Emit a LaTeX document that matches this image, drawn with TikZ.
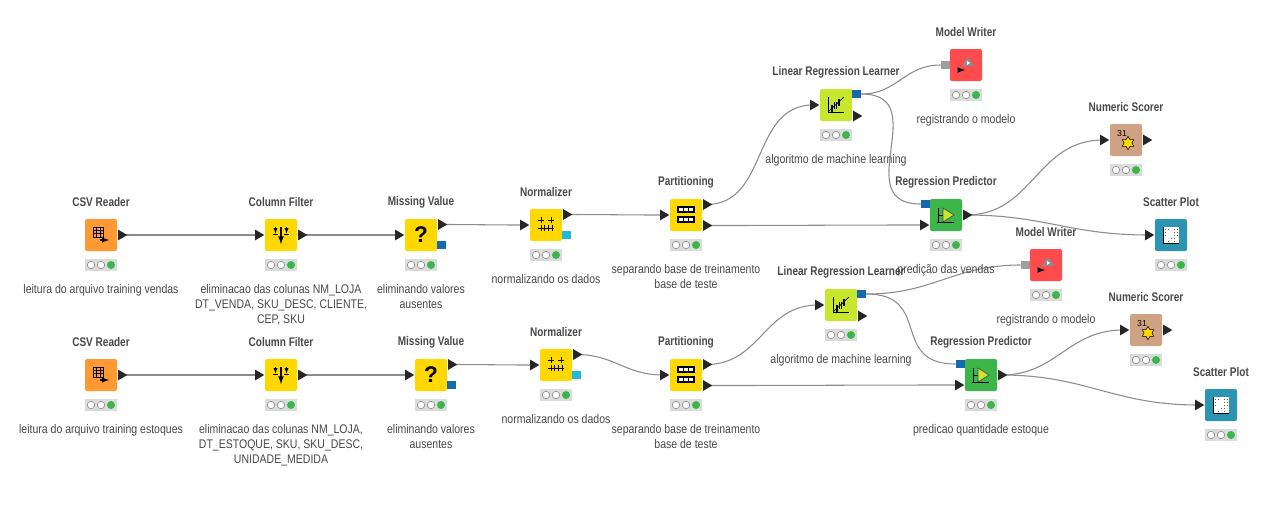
\documentclass[tikz,border=0pt]{standalone}
\usepackage{fontspec}
\setmainfont[FakeStretch=0.84,BoldFeatures={FakeStretch=0.8}]{Liberation Sans}
\newfontfamily\kicon{Liberation Sans}
\usetikzlibrary{calc,shapes.geometric,backgrounds}

\definecolor{kOrange}{HTML}{FF9933}
\definecolor{kYellow}{HTML}{FFD800}
\definecolor{kLime}{HTML}{C8E62E}
\definecolor{kRed}{HTML}{FF4B4B}
\definecolor{kGreen}{HTML}{3CB54A}
\definecolor{kTan}{HTML}{D0A284}
\definecolor{kTeal}{HTML}{2A94B2}
\definecolor{kBlue}{HTML}{1469AF}
\definecolor{kCyan}{HTML}{1EB9DC}
\definecolor{kText}{HTML}{484848}

\tikzset{
	knode/.style={minimum size=24pt,inner sep=0pt,rounded corners=1.5pt},
	ktitle/.style={font=\fontsize{9.4}{11}\selectfont\bfseries,text=kText,inner sep=0pt},
	klabel/.style={font=\fontsize{9.4}{11.25}\selectfont,text=kText,align=center,inner sep=0pt,anchor=north},
	klight/.style={fill=black!14,minimum width=24pt,minimum height=9pt,inner sep=0pt},
	kout/.style={isosceles triangle,isosceles triangle stretches,fill=black!85,inner sep=0pt,minimum height=6.8pt,minimum width=8pt},
	ksquare/.style={minimum size=6.6pt,inner sep=0pt},
	kwire/.style={draw=black!45,line width=0.8pt},
	kcurve/.style={kwire,out=0,in=180,looseness=1.1}
}

% node with title, traffic light and comment
\newcommand{\knode}[6]{
	\node[knode,fill=#4] (#1) at (#2,#3) {};
	\node[ktitle] (#1title) at ($(#1.center)+(0,-33)$) {#5};
	\node[klight] (#1light) at ($(#1.center)+(0,30)$) {};
	\foreach \dx/\col in {-10/white,0/white}
		\fill[draw=black!50,line width=0.4pt,fill=\col] ($(#1light.center)+(\dx,0)$) circle (2.8pt);
	\fill[kGreen] ($(#1light.center)+(10,0)$) circle (3pt);
	\node[klabel] (#1label) at ($(#1.center)+(0,49)$) {#6};
}
% triangle ports: name, node, dy
\newcommand{\kin}[3]{\node[kout] (#1) at ($(#2.west)+(-6.5,#3)$) {};}
\newcommand{\kou}[3]{\node[kout] (#1) at ($(#2.east)+(4,#3)$) {};}

% icons
\newcommand{\icotable}[1]{
	\draw[line width=0.6pt,black] ($(#1.center)+(-8,-8)$) rectangle ($(#1.center)+(2,2)$);
	\draw[line width=0.4pt,black] ($(#1.center)+(-8,-5)$) -- ($(#1.center)+(2,-5)$) ($(#1.center)+(-8,-2)$) -- ($(#1.center)+(2,-2)$) ($(#1.center)+(-5,-8)$) -- ($(#1.center)+(-5,2)$) ($(#1.center)+(-1,-8)$) -- ($(#1.center)+(-1,2)$);
	\draw[-latex,line width=0.8pt,black] ($(#1.center)+(-1,5)$) -- ($(#1.center)+(8,5)$);
}
\newcommand{\icofilter}[1]{
	\draw[-latex,line width=1pt,black] ($(#1.center)+(0,-8)$) -- ($(#1.center)+(0,9)$);
	\draw[-latex,line width=0.4pt,black] ($(#1.center)+(-5.5,-8)$) -- ($(#1.center)+(-5.5,-1.5)$);
	\draw[-latex,line width=0.4pt,black] ($(#1.center)+(5.5,-8)$) -- ($(#1.center)+(5.5,-1.5)$);
	\draw[line width=0.5pt,black] ($(#1.center)+(-8,-0.5)$) -- ($(#1.center)+(-3,-0.5)$) ($(#1.center)+(3,-0.5)$) -- ($(#1.center)+(8,-0.5)$);
}
\newcommand{\icomissing}[1]{
	\node[font=\kicon\fontsize{17}{17}\selectfont\bfseries,inner sep=0pt] (#1 mark) at (#1.center) {?};
}
\newcommand{\iconorm}[1]{
	\draw[line width=0.6pt,black] ($(#1.center)+(-8,3)$) -- ($(#1.center)+(8,3)$);
	\foreach \tx in {-5,-1.5,2.5,6}
		\draw[line width=0.5pt,black] ($(#1.center)+(\tx,0)$) -- ($(#1.center)+(\tx,6)$);
	\foreach \tx in {-5,5}{
		\draw[line width=0.7pt,black] ($(#1.center)+(\tx-3,-5)$) -- ($(#1.center)+(\tx+3,-5)$);
		\draw[line width=0.7pt,black] ($(#1.center)+(\tx,-8)$) -- ($(#1.center)+(\tx,-2)$);
	}
}
\newcommand{\icopart}[1]{
	\foreach \ry in {-8,2}{
		\draw[line width=0.8pt,black,fill=white] ($(#1.center)+(-8,\ry)$) rectangle ($(#1.center)+(8,\ry+5)$);
		\draw[line width=0.8pt,black] ($(#1.center)+(-2.5,\ry)$) -- ($(#1.center)+(-2.5,\ry+5)$) ($(#1.center)+(2.5,\ry)$) -- ($(#1.center)+(2.5,\ry+5)$);
	}
}
\newcommand{\icolearn}[1]{
	\draw[line width=0.7pt,black] ($(#1.center)+(-8,-8)$) -- ($(#1.center)+(-8,7)$) -- ($(#1.center)+(8,7)$);
	\draw[line width=0.5pt,black] ($(#1.center)+(-7,6)$) -- ($(#1.center)+(8,-8)$);
	\foreach \tx/\ty in {-4/3,-1.5/0,0.5/0,3/-3}
		\draw[line width=0.8pt,black] ($(#1.center)+(\tx,\ty-3.5)$) -- ($(#1.center)+(\tx,\ty+3.5)$);
}
\newcommand{\icowriter}[1]{
	\fill[black!45] ($(#1.center)+(-4,1)$) -- ($(#1.center)+(2,-8)$) -- ($(#1.center)+(8,1)$) -- cycle;
	\fill[white] ($(#1.center)+(1,-4)$) -- ($(#1.center)+(4,-2)$) -- ($(#1.center)+(1,0)$) -- cycle;
	\draw[-latex,line width=0.9pt,black] ($(#1.center)+(-8,5)$) -- ($(#1.center)+(-1,5)$);
}
\newcommand{\icopredict}[1]{
	\draw[line width=0.6pt,black] ($(#1.center)+(-8,-7)$) -- ($(#1.center)+(-8,8)$) ($(#1.center)+(-3,-7)$) -- ($(#1.center)+(-3,7)$) ($(#1.center)+(-8,0)$) -- ($(#1.center)+(-3,0)$) ($(#1.center)+(-9,7)$) -- ($(#1.center)+(8,7)$);
	\draw[line width=0.5pt,black!70,fill=kLime] ($(#1.center)+(-3,-7)$) -- ($(#1.center)+(8,0)$) -- ($(#1.center)+(-3,7)$) -- cycle;
}
\newcommand{\icoscorer}[1]{
	\node[font=\kicon\fontsize{6.5}{6.5}\selectfont,inner sep=0pt] (#1 mark) at ($(#1.center)+(-4,-6)$) {31};
	\node[star,star points=6,star point ratio=1.7,fill=kYellow,draw=black,line width=0.4pt,minimum size=10pt,inner sep=0pt] (#1 star) at ($(#1.center)+(2,3)$) {};
}
\newcommand{\icoscatter}[1]{
	\fill[white] ($(#1.center)+(-8,-8)$) rectangle ($(#1.center)+(8,8)$);
	\draw[line width=0.7pt,black] ($(#1.center)+(-8,-8)$) -- ($(#1.center)+(-8,8)$) -- ($(#1.center)+(8,8)$);
	\foreach \tx/\ty in {-6/-6,-3/-6,3/-6,6/-6,-6/-3,3/-3,6/-3,-6/0,3/0,6/0,0/3,3/3,-3/6,3/6}
		\fill[black!60] ($(#1.center)+(\tx,\ty)$) rectangle ($(#1.center)+(\tx+1,\ty+1)$);
}

\begin{document}
\begin{tikzpicture}[x=0.75pt,y=-0.75pt]
\useasboundingbox (0,0) rectangle (1271,508);

% first row
\knode{csvA}{101}{235}{kOrange}{CSV Reader}{leitura do arquivo training vendas}
\knode{colA}{281}{235}{kYellow}{Column Filter}{eliminacao das colunas NM\_LOJA\\DT\_VENDA, SKU\_DESC, CLIENTE,\\CEP, SKU}
\knode{misA}{421}{235}{kYellow}{Missing Value}{eliminando valores\\ausentes}
\knode{norA}{546}{225}{kYellow}{Normalizer}{normalizando os dados}
\knode{parA}{686}{215}{kYellow}{Partitioning}{separando base de treinamento\\base de teste}
\knode{lrnA}{836}{105}{kLime}{Linear Regression Learner}{algoritmo de machine learning}
\knode{wriA}{966}{65}{kRed}{Model Writer}{registrando o modelo}
\knode{preA}{946}{215}{kGreen}{Regression Predictor}{predição das vendas}
\knode{numA}{1126}{140}{kTan}{Numeric Scorer}{}
\knode{scaA}{1171}{235}{kTeal}{Scatter Plot}{}

% second row
\knode{csvB}{101}{375}{kOrange}{CSV Reader}{leitura do arquivo training estoques}
\knode{colB}{281}{375}{kYellow}{Column Filter}{eliminacao das colunas NM\_LOJA,\\DT\_ESTOQUE, SKU, SKU\_DESC,\\UNIDADE\_MEDIDA}
\knode{misB}{431}{375}{kYellow}{Missing Value}{eliminando valores\\ausentes}
\knode{norB}{556}{365}{kYellow}{Normalizer}{normalizando os dados}
\knode{parB}{686}{375}{kYellow}{Partitioning}{separando base de treinamento\\base de teste}
\knode{lrnB}{841}{305}{kLime}{Linear Regression Learner}{algoritmo de machine learning}
\knode{wriB}{1046}{265}{kRed}{Model Writer}{registrando o modelo}
\knode{preB}{981}{375}{kGreen}{Regression Predictor}{predicao quantidade estoque}
\knode{numB}{1146}{330}{kTan}{Numeric Scorer}{}
\knode{scaB}{1221}{405}{kTeal}{Scatter Plot}{}

% icons
\foreach \n in {A,B}{
	\icotable{csv\n}
	\icofilter{col\n}
	\icomissing{mis\n}
	\iconorm{nor\n}
	\icopart{par\n}
	\icolearn{lrn\n}
	\icowriter{wri\n}
	\icopredict{pre\n}
	\icoscorer{num\n}
	\icoscatter{sca\n}
	% ports
	\kou{csv\n out}{csv\n}{0}
	\kin{col\n in}{col\n}{0}
	\kou{col\n out}{col\n}{0}
	\kin{mis\n in}{mis\n}{0}
	\kou{mis\n out}{mis\n}{-10.5}
	\node[ksquare,fill=kBlue] (mis\n mod) at ($(mis\n.east)+(4.5,10)$) {};
	\kin{nor\n in}{nor\n}{0}
	\kou{nor\n out}{nor\n}{-10.5}
	\node[ksquare,fill=kCyan] (nor\n mod) at ($(nor\n.east)+(4.5,10)$) {};
	\kin{par\n in}{par\n}{0}
	\kou{par\n outa}{par\n}{-10.5}
	\kou{par\n outb}{par\n}{10.5}
	\kin{lrn\n in}{lrn\n}{0}
	\node[ksquare,fill=kBlue] (lrn\n mod) at ($(lrn\n.east)+(4.5,-11)$) {};
	\kou{lrn\n out}{lrn\n}{11}
	\node[ksquare,fill=black!38] (wri\n mod) at ($(wri\n.west)+(-4.5,0)$) {};
	\node[ksquare,fill=kBlue] (pre\n mod) at ($(pre\n.west)+(-4.5,-11)$) {};
	\kin{pre\n in}{pre\n}{10}
	\kou{pre\n out}{pre\n}{0}
	\kin{num\n in}{num\n}{0}
	\kou{num\n out}{num\n}{0}
	\kin{sca\n in}{sca\n}{0}
}

% connectors
\begin{scope}[on background layer]
\foreach \n in {A,B}{
	\draw[kwire] (csv\n out.center) -- (col\n in.center);
	\draw[kwire] (col\n out.center) -- (mis\n in.center);
	\draw[kcurve] (mis\n out.center) to (nor\n in.center);
	\draw[kcurve] (nor\n out.center) to (par\n in.center);
	\draw[kcurve] (par\n outa.center) to (lrn\n in.center);
	\draw[kcurve] (par\n outb.center) to (pre\n in.center);
	\draw[kcurve] (lrn\n mod.east) to (wri\n mod.west);
	\draw[kcurve,looseness=1.5] (lrn\n mod.east) to (pre\n mod.west);
	\draw[kcurve] (pre\n out.center) to (num\n in.center);
	\draw[kcurve] (pre\n out.center) to (sca\n in.center);
}
\end{scope}

\end{tikzpicture}
\end{document}
